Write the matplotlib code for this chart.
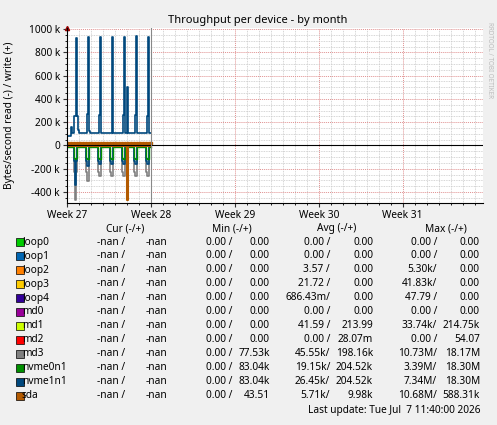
import matplotlib
matplotlib.use("Agg")
import matplotlib.pyplot as plt
from matplotlib.ticker import FixedLocator, MultipleLocator
plt.rcParams['font.family'] = ['Noto Sans', 'DejaVu Sans']

# time in days since Week 27 start
w_t = [0.05,0.3,0.4,0.55,0.62,0.72,0.8,0.88,1.0,1.6,1.68,1.75,1.82,1.9,2.6,2.66,2.72,2.8,2.88,
       3.7,3.76,3.84,3.92,4.6,4.66,4.74,4.82,4.9,5.04,5.12,5.2,5.6,5.66,5.74,5.82,5.9,6.6,6.66,6.74,6.82,6.9,7.0]
w_v = [80e3,160e3,110e3,110e3,250e3,920e3,250e3,130e3,110e3,110e3,270e3,930e3,120e3,110e3,110e3,260e3,930e3,110e3,110e3,
       110e3,930e3,110e3,110e3,110e3,260e3,930e3,110e3,110e3,500e3,110e3,110e3,110e3,260e3,940e3,110e3,110e3,110e3,250e3,930e3,110e3,110e3,110e3]

rb_t = [0.05,0.6,0.66,0.72,0.8,1.6,1.7,1.8,2.6,2.7,2.8,3.6,3.7,3.8,4.6,4.7,4.8,5.6,5.7,5.8,6.6,6.7,6.8,7.0]
rb_v = [-10e3,-130e3,-340e3,-130e3,-10e3,-130e3,-180e3,-10e3,-130e3,-160e3,-10e3,-130e3,-160e3,-10e3,-130e3,-160e3,-10e3,-130e3,-160e3,-10e3,-130e3,-160e3,-10e3,-10e3]
rg_t = rb_t
rg_v = [-10e3,-110e3,-120e3,-110e3,-10e3,-110e3,-120e3,-10e3,-110e3,-120e3,-10e3,-110e3,-120e3,-10e3,-110e3,-120e3,-10e3,-110e3,-120e3,-10e3,-110e3,-120e3,-10e3,-10e3]
rm_t = rb_t
rm_v = [-10e3,-230e3,-470e3,-230e3,-10e3,-230e3,-310e3,-10e3,-230e3,-260e3,-10e3,-230e3,-260e3,-10e3,-230e3,-260e3,-10e3,-230e3,-260e3,-10e3,-230e3,-260e3,-10e3,-10e3]
sr_t = [0.05,5.02,5.1,7.0]
sr_v = [-5e3,-470e3,-5e3,-5e3]
sw_t = [0.05,0.3,0.55,0.8,1.05,1.3,1.55,1.8,2.05,2.3,2.55,2.8,3.05,3.3,3.55,3.8,4.05,4.3,4.55,4.8,5.05,5.3,5.55,5.8,6.05,6.3,6.55,6.8,7.0]
sw_v = [18e3]*29

names = ["loop0","loop1","loop2","loop3","loop4","md0","md1","md2","md3","nvme0n1","nvme1n1","sda"]
colors = ["#00CC00","#0066B3","#FF8000","#FFCC00","#330099","#990099","#CCFF00","#FF0000","#808080","#008F00","#00487D","#B35A00"]
cur = [("-nan /","-nan")]*12
mins = [("0.00 /","0.00")]*8 + [("0.00 /","77.53k"),("0.00 /","83.04k"),("0.00 /","83.04k"),("0.00 /","43.51")]
avgs = [("0.00 /","0.00"),("0.00 /","0.00"),("3.57 /","0.00"),("21.72 /","0.00"),("686.43m/","0.00"),("0.00 /","0.00"),
        ("41.59 /","213.99"),("0.00 /","28.07m"),("45.55k/","198.16k"),("19.15k/","204.52k"),("26.45k/","204.52k"),("5.71k/","9.98k")]
maxs = [("0.00 /","0.00"),("0.00 /","0.00"),("5.30k/","0.00"),("41.83k/","0.00"),("47.79 /","0.00"),("0.00 /","0.00"),
        ("33.74k/","214.75k"),("0.00 /","54.07"),("10.73M/","18.17M"),("3.39M/","18.30M"),("7.34M/","18.30M"),("10.68M/","588.31k")]
week_labels = ["Week 27","Week 28","Week 29","Week 30","Week 31"]

W,H = 497,425
fs = 7.3
fig = plt.figure(figsize=(W/100,H/100), dpi=100, facecolor="#F0F0F0")
ax = fig.add_axes([67/W, 1-203/H, 416/W, 175/H])
ax.set_facecolor("white")
ax.set_xlim(0, 34.7)
ax.set_ylim(-495e3, 1010e3)
ax.xaxis.set_major_locator(FixedLocator([0,7,14,21,28]))
ax.set_xticklabels(week_labels, fontsize=fs)
ax.xaxis.set_minor_locator(MultipleLocator(1))
ax.yaxis.set_minor_locator(MultipleLocator(50e3))
yt = [-400e3,-200e3,0,200e3,400e3,600e3,800e3,1000e3]
ax.set_yticks(yt)
ax.set_yticklabels(["-400 k","-200 k","0","200 k","400 k","600 k","800 k","1000 k"], fontsize=fs)
ax.grid(which="minor", color="#C8C8C8", linestyle=(0,(1,1)), linewidth=0.6)
ax.grid(which="major", color="#E09090", linestyle=(0,(1,1)), linewidth=0.7)
ax.tick_params(length=3, pad=2, colors="#333333", labelcolor="black")
ax.tick_params(which="minor", length=1.5)
for s in ["top","right"]:
    ax.spines[s].set_visible(False)
ax.set_axisbelow(True)

ax.plot(rm_t, rm_v, color=colors[8], lw=1.2, drawstyle="steps-post")
ax.plot(rb_t, rb_v, color=colors[10], lw=1.2, drawstyle="steps-post")
ax.plot(rg_t, rg_v, color=colors[9], lw=1.0, drawstyle="steps-post")
ax.plot(sr_t, sr_v, color=colors[11], lw=1.5, drawstyle="steps-post")
ax.plot(w_t, w_v, color=colors[10], lw=1.2, drawstyle="steps-post")
ax.plot(sw_t, sw_v, color=colors[11], lw=1.0, marker="s", ms=2, drawstyle="steps-post")
ax.axhline(0, color="black", lw=0.8)
ax.axvline(7, color="#888888", lw=0.8)
ax.plot([0],[1010e3], marker="^", color="#990000", ms=3, clip_on=False)

fig.text(258/W, 1-20/H, "Throughput per device - by month", ha="center", va="center", fontsize=8)
fig.text(10/W, 1-115/H, "Bytes/second read (-) / write (+)", rotation=90, ha="center", va="center", fontsize=fs)
fig.text(489/W, 1-60/H, "RRDTOOL / TOBI OETIKER", rotation=270, ha="center", va="center", fontsize=4.5, color="#BBBBBB")

hy = 229
for x, lab in [(125,"Cur (-/+)"),(232,"Min (-/+)"),(337,"Avg (-/+)"),(446,"Max (-/+)")]:
    fig.text(x/W, 1-hy/H, lab, ha="center", va="center", fontsize=fs)
cols = [(125,167),(232,270),(330,373),(437,480)]
for i in range(12):
    y = 242 + 14*i
    fig.text(22/W, 1-y/H, names[i], ha="left", va="center", fontsize=fs)
    fig.patches.append(plt.Rectangle((16/W, 1-(y+4)/H), 8/W, 8/H, transform=fig.transFigure,
                                     facecolor=colors[i], edgecolor="black", lw=0.5))
    for (a,b),vals in zip(cols,[cur[i],mins[i],avgs[i],maxs[i]]):
        fig.text(a/W, 1-y/H, vals[0], ha="right", va="center", fontsize=fs)
        fig.text(b/W, 1-y/H, vals[1], ha="right", va="center", fontsize=fs)
fig.text(480/W, 1-410/H, "Last update: Tue Jul  7 11:40:00 2026", ha="right", va="center", fontsize=fs)
fig.savefig("out.png", dpi=100, facecolor=fig.get_facecolor())
